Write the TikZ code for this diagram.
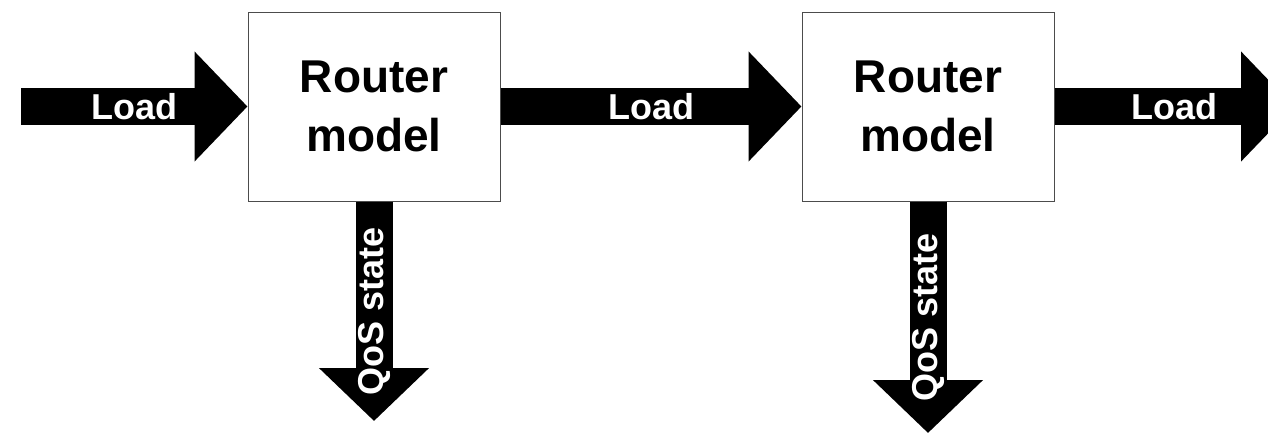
\documentclass[tikz,border=0pt]{standalone}
\usepackage{fontspec}
\setmainfont{Liberation Sans}
\usetikzlibrary{arrows.meta}

\begin{document}
\begin{tikzpicture}[x=1pt,y=-1pt,
    router/.style={draw=black!70, line width=1pt, fill=white, minimum width=252pt, minimum height=189pt, align=center, font=\fontsize{46}{59}\selectfont\bfseries},
    flow/.style={line width=37pt, -{Triangle[length=53pt,width=107pt]}},
    flowlabel/.style={text=white, font=\fontsize{36}{42}\selectfont\bfseries}]
    \clip (0,0) rectangle (1268,434);

    \node [router] at (374,106.5) (r1) {Router\\model};
    \node [router] at (928,106.5) (r2) {Router\\model};

    \coordinate (in)  at (21,106.5);
    \coordinate (out) at (1294,106.5);
    \coordinate (q1)  at (374,421);
    \coordinate (q2)  at (928,433);

    % load passed along the chain
    \draw [flow] (in) -- (r1.west) node [midway, flowlabel] {Load};
    \draw [flow] (r1.east) -- (r2.west) node [midway, flowlabel] {Load};
    \draw [flow] (r2.east) -- (out) node [midway, flowlabel] {Load};

    % QoS outputs
    \draw [flow] (r1.south) -- (q1) node [midway, flowlabel, rotate=90] {QoS state};
    \draw [flow] (r2.south) -- (q2) node [midway, flowlabel, rotate=90] {QoS state};
\end{tikzpicture}
\end{document}
